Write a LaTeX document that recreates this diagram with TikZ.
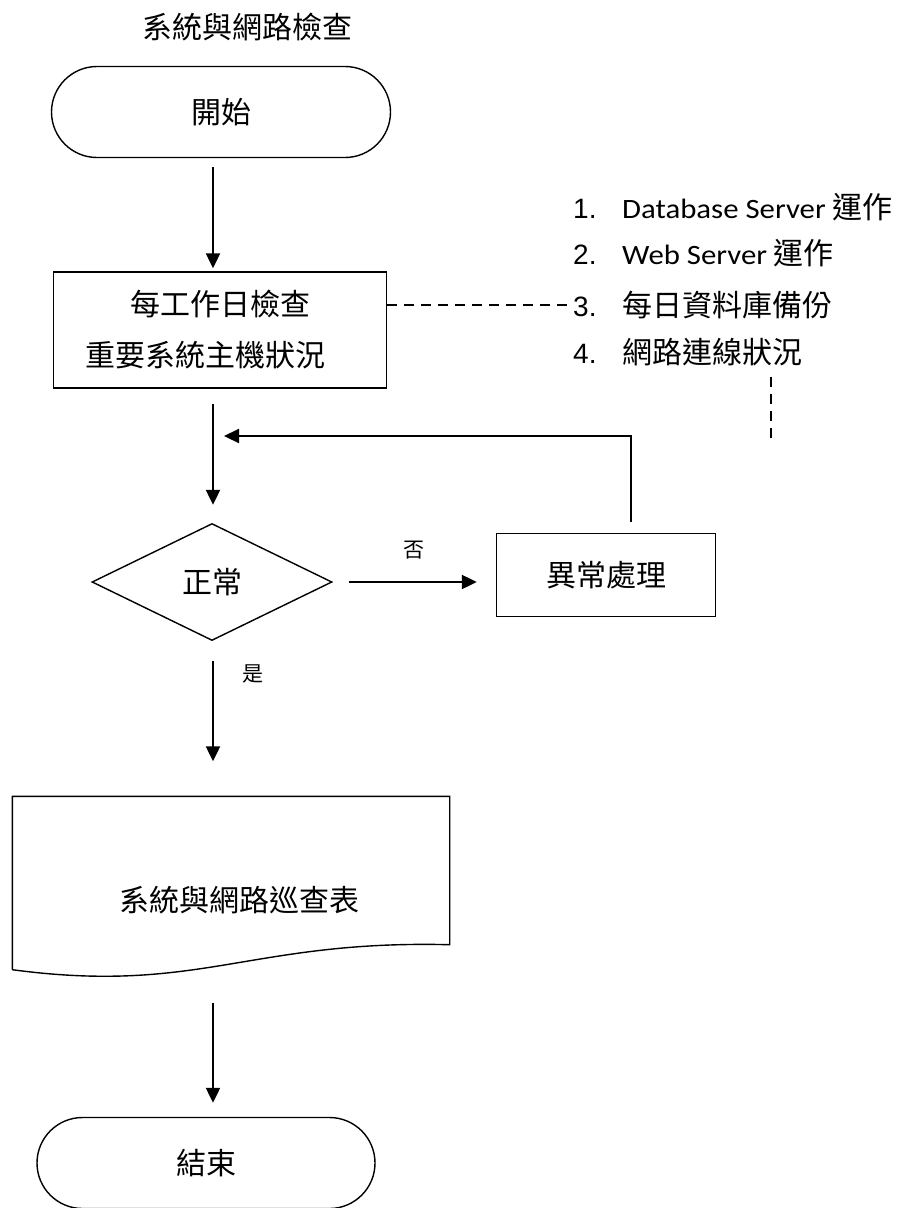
\documentclass[tikz,border=0pt]{standalone}
\usepackage{fontspec}
\setmainfont{Noto Sans CJK TC}
\newfontfamily\numfont{Liberation Sans}
\newfontfamily\latfont[FakeStretch=1.1]{Carlito}
\usetikzlibrary{arrows.meta,shapes.geometric,shapes.misc,calc}

\newcommand\itemnum[1]{\makebox[49pt][l]{\numfont\fontsize{28pt}{32pt}\selectfont #1}}
\newcommand\lat[1]{{\latfont\fontsize{28pt}{32pt}\selectfont #1}}

\begin{document}
\begin{tikzpicture}[x=1pt,y=-1pt,>=Triangle]
\tikzset{
  term/.style={draw,rounded rectangle,line width=1.4pt,minimum width=339pt,minimum height=91pt,inner sep=0pt,font=\fontsize{30pt}{36pt}\selectfont},
  proc/.style={draw,rectangle,line width=1.4pt,inner sep=0pt,align=center,font=\fontsize{30pt}{51pt}\selectfont},
  decide/.style={draw,diamond,aspect=2.05,line width=1.4pt,minimum width=240pt,minimum height=117pt,inner sep=0pt,font=\fontsize{30pt}{36pt}\selectfont},
  docbox/.style={minimum width=437pt,minimum height=173pt,inner sep=0pt},
  note/.style={anchor=west,inner sep=1pt,font=\fontsize{30pt}{36pt}\selectfont},
  lbl/.style={font=\fontsize{21pt}{25pt}\selectfont},
  arr/.style={-{Triangle[length=15pt,width=14pt]},line width=2.2pt},
  dline/.style={line width=1.6pt,dash pattern=on 10pt off 7pt}
}
\useasboundingbox (0,0) rectangle (912,1208);

\node[font=\fontsize{30pt}{36pt}\selectfont] (title) at (247,27) {系統與網路檢查};

% main column
\coordinate (axis) at (213,0);
\node[term] (start) at (221,112) {開始};
\node[proc,minimum width=333pt,minimum height=116pt] (chk) at (220,330) {每工作日檢查\\重要系統主機狀況\hspace*{1em}};
\node[decide] (dec) at (212,582) {正常};
\node[docbox,label={[font=\fontsize{30pt}{36pt}\selectfont,xshift=8pt,yshift=-17pt]center:系統與網路巡查表}] (doc) at (231,883) {};
\draw[line width=1.4pt] (doc.south west) -- (doc.north west) -- (doc.north east) -- ($(doc.south east)+(0,-25)$)
  .. controls ($(doc.south east)+(-200,-30)$) and ($(doc.south west)+(187,25)$) .. (doc.south west);
\node[term,minimum width=338pt] (stop) at (206,1163) {結束};

% check items
\node[note] (item1) at (572,207) {\itemnum{1.}\lat{Database Server} 運作};
\node[note] (item2) at (572,253) {\itemnum{2.}\lat{Web Server} 運作};
\node[note] (item3) at (572,305) {\itemnum{3.}每日資料庫備份};
\node[note] (item4) at (572,352) {\itemnum{4.}網路連線狀況};
\draw[dline] (chk.east |- item3.west) -- (item3.west);
\draw[dline] ([xshift=199pt,yshift=-10pt]item4.south west) -- ++(0,62);

% abnormal branch
\node[proc,minimum width=219pt,minimum height=83pt] (fix) at (606,575) {異常處理};
\coordinate (merge) at (213,436);

\draw[arr,shorten <=9pt,shorten >=3pt] (start.south -| axis) -- (chk.north -| axis);
\draw[arr,shorten <=15pt,shorten >=18pt] (chk.south -| axis) -- (dec.north -| axis);
\draw[arr,shorten <=16pt,shorten >=19pt] (dec.east) -- node[lbl,yshift=32pt]{否} (dec.east -| fix.west);
\draw[arr,shorten <=11pt,shorten >=11pt] ([xshift=25pt]fix.north) |- (merge);
\draw[arr,shorten <=20pt,shorten >=35pt] (dec.south -| axis) -- node[lbl,pos=0.21,xshift=40pt]{是} (doc.north -| axis);
\draw[arr,shorten <=33pt,shorten >=14pt] (doc.south -| axis) -- (stop.north -| axis);
\end{tikzpicture}
\end{document}
